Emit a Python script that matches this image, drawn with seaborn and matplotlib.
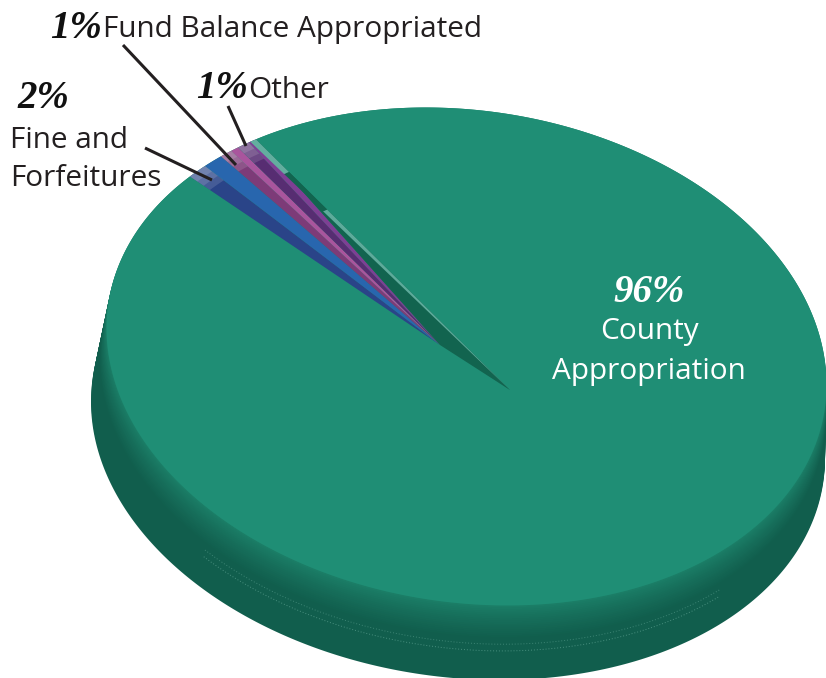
import numpy as np
import matplotlib
matplotlib.use("Agg")
import matplotlib.pyplot as plt
import seaborn as sns
from matplotlib.patches import Wedge
from matplotlib.path import Path
from matplotlib.transforms import Transform, Affine2D
from matplotlib.colors import to_rgb

# ---- data ----
categories = ["County Appropriation", "Fine and Forfeitures", "Fund Balance Appropriated", "Other"]
shares = [96, 2, 1, 1]
wall_part = [0.5, 0.6, 0.6]   # dark side-wall portion of each small slice
main_color = "#1f8e75"
face_colors = ["#2866ae", "#a9559d", "#7e3f94"]
wall_colors = ["#2a4488", "#7d3b78", "#572d72"]

# ---- geometry in reference pixels ----
CX, CY, RX, RY, PHI = 466.5, 356.5, 360.0, 249.0, np.radians(6.5)
BODY = (458.0, 430.0, 367.0, 250.0)
APEX_MAIN = (510.0, 390.0)
APEX_FAN = (440.0, 345.0)
START = 125.8


class Star(Transform):
    """Maps the unit-circle pie onto a tilted ellipse, seen from an off-centre apex."""
    input_dims = output_dims = 2
    has_inverse = False
    is_separable = False

    def __init__(self, apex, ell=(CX, CY, RX, RY)):
        super().__init__()
        self.apex = np.array(apex, float)
        self.ell = ell

    def transform_non_affine(self, pts):
        pts = np.asarray(pts, float)
        r = np.hypot(pts[:, 0], pts[:, 1])
        t = -np.arctan2(pts[:, 1], pts[:, 0])
        cx, cy, rx, ry = self.ell
        ex = cx + rx * np.cos(t)
        ey = cy + ry * np.sin(t + PHI)
        return np.column_stack([self.apex[0] + r * (ex - self.apex[0]),
                                self.apex[1] + r * (ey - self.apex[1])])

    def transform_path_non_affine(self, path):
        polys = path.transformed(Affine2D().scale(3000)).to_polygons(closed_only=True)
        v = np.vstack(polys) / 3000.0
        return Path(self.transform_non_affine(v))


def ell_pt(theta_deg, ell=(CX, CY, RX, RY)):
    t = -np.radians(theta_deg)
    cx, cy, rx, ry = ell
    return cx + rx * np.cos(t), cy + ry * np.sin(t + PHI)


sns.set_theme(style="white")
plt.rcParams["font.family"] = ["Open Sans", "DejaVu Sans"]

fig = plt.figure(figsize=(8.26, 6.78), dpi=100)
ax = fig.add_axes([0, 0, 1, 1])

# ---- body of the disc: stacked pies, bottom to top ----
dark = np.array(to_rgb("#115e4d"))
light = np.array(to_rgb("#1c8069"))
N = 40
top_ell = np.array([CX, CY, RX, RY])
for k in range(N + 1):
    s = 1 - k / N
    ell = tuple(top_ell + s * (np.array(BODY) - top_ell))
    c = dark if s > 0.45 else light + (dark - light) * (s / 0.45) ** 0.8
    ws, _ = ax.pie([sum(shares)], colors=[tuple(c)], wedgeprops=dict(linewidth=0))
    ws[0].set_transform(Star(ell[:2], ell) + ax.transData)

# faint dotted rims
for s, a in [(0.52, 0.4), (0.61, 0.5)]:
    ell = tuple(top_ell + s * (np.array(BODY) - top_ell))
    th = np.linspace(-135, -45, 300)
    pts = np.array([ell_pt(v, ell) for v in th])
    ax.plot(pts[:, 0], pts[:, 1], ls=(0, (1, 2)), lw=0.7, color="#7fc0b0", alpha=a)

# ---- pie top: shares split into wall/face parts ----
vals = [shares[0]]
cols = [main_color]
for v, w, fc, wc in zip(shares[1:], wall_part, face_colors, wall_colors):
    vals += [v * w, v * (1 - w)]
    cols += [wc, fc]

wedges, _ = ax.pie(vals, colors=cols, startangle=START, counterclock=False,
                   wedgeprops=dict(linewidth=0.3, edgecolor="none"))
wedges[0].set_transform(Star(APEX_MAIN) + ax.transData)
for w in wedges[1:]:
    w.set_transform(Star(APEX_FAN) + ax.transData)

# dark wall of the main slice between the fan and the main apex
p0 = ell_pt(START)
ax.fill([p0[0], APEX_FAN[0], APEX_MAIN[0]], [p0[1], APEX_FAN[1], APEX_MAIN[1]],
        color="#12644f", lw=0, zorder=1.5)

# highlighted edge strip of the main slice
for r0, r1, col in [(0.0, 0.72, "#5dab9b"), (0.72, 0.87, "#12644f"), (0.87, 1.0, "#63ae9f")]:
    strip = Wedge((0, 0), r1, START, START + 1.1, width=r1 - r0, color=col, lw=0, zorder=1.6)
    strip.set_transform(Star(APEX_MAIN) + ax.transData)
    ax.add_patch(strip)

# pale caps at the outer ends of the slice walls
for w in wedges[1::2]:
    for width in (0.03, 0.055, 0.08):
        cap = Wedge((0, 0), 1.0, w.theta1, w.theta2, width=width, color="white",
                    alpha=0.13, lw=0, zorder=1.6)
        cap.set_transform(Star(APEX_FAN) + ax.transData)
        ax.add_patch(cap)

# ---- leader lines ----
leaders = [((145, 212), (148, 180)), ((123, 236), (45, 165)), ((228, 246), (106, 146))]
for xs, ys in leaders:
    ax.plot(xs, ys, color="#231f20", lw=2.2, solid_capstyle="butt", zorder=5)

# ---- text ----
INK = "#231f20"
FS = 21.4
PCT = dict(family=["Liberation Serif"], style="italic", weight="bold", fontsize=28, va="center", zorder=6)
TXT = dict(fontsize=FS, va="center", zorder=6)
ax.text(50, 28, "1%", color="#111111", **PCT)
ax.text(103, 29, "Fund Balance Appropriated", color=INK, **TXT)
ax.text(196, 88, "1%", color="#111111", **PCT)
ax.text(248, 90, "Other", color=INK, **TXT)
ax.text(17, 98, "2%", color="#111111", **PCT)
ax.text(10, 140, "Fine and", color=INK, **TXT)
ax.text(10, 178, "Forfeitures", color=INK, **TXT)
ax.text(649, 292, "96%", color="white", ha="center", **PCT)
ax.text(649, 332, "County", color="white", ha="center", **TXT)
ax.text(649, 371, "Appropriation", color="white", ha="center", **TXT)

ax.set_aspect("auto")
ax.set_xlim(0, 826)
ax.set_ylim(678, 0)
ax.set_axis_off()
fig.savefig("out.png", dpi=100)
